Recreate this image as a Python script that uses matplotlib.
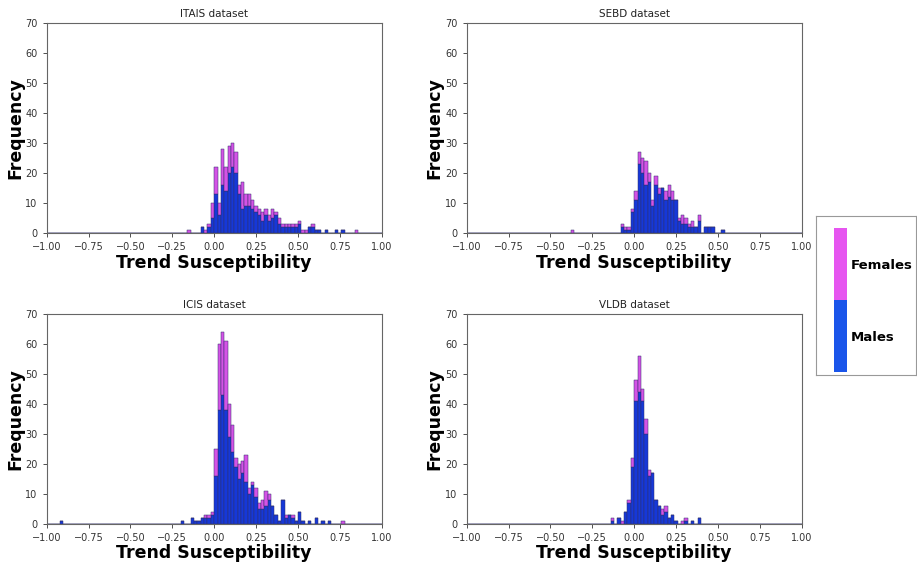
import numpy as np
import matplotlib as mpl
import matplotlib.pyplot as plt
from matplotlib.colors import ListedColormap, BoundaryNorm

# histogram data: bin left edges (bin width 0.02),
# counts of males (bottom) and females (stacked on top)
itais_edges = [-0.16, -0.08, -0.06, -0.04, -0.02, 0.00, 0.02, 0.04, 0.06, 0.08,
               0.10, 0.12, 0.14, 0.16, 0.18, 0.20, 0.22, 0.24, 0.26, 0.28,
               0.30, 0.32, 0.34, 0.36, 0.38, 0.40, 0.42, 0.44, 0.46, 0.48,
               0.50, 0.52, 0.54, 0.56, 0.58, 0.60, 0.62, 0.66, 0.72, 0.76, 0.84]
itais_males = [0, 2, 0, 2, 5, 13, 6, 16, 14, 20,
               22, 20, 13, 8, 9, 9, 8, 7, 6, 4,
               6, 4, 5, 6, 3, 2, 2, 2, 2, 2,
               3, 0, 0, 2, 2, 1, 1, 1, 1, 1, 0]
itais_females = [1, 0, 1, 1, 5, 9, 4, 12, 8, 9,
                 8, 7, 3, 9, 4, 4, 3, 2, 2, 3,
                 2, 2, 3, 1, 2, 1, 1, 1, 1, 1,
                 1, 1, 1, 0, 1, 0, 0, 0, 0, 0, 1]

sebd_edges = [-0.38, -0.08, -0.06, -0.04, -0.02, 0.00, 0.02, 0.04, 0.06, 0.08,
              0.10, 0.12, 0.14, 0.16, 0.18, 0.20, 0.22, 0.24, 0.26, 0.28,
              0.30, 0.32, 0.34, 0.36, 0.38, 0.42, 0.44, 0.46, 0.52]
sebd_males = [0, 2, 1, 1, 7, 11, 23, 20, 16, 17,
              9, 16, 13, 15, 11, 12, 11, 11, 4, 3,
              3, 2, 2, 2, 4, 2, 2, 2, 1]
sebd_females = [1, 1, 1, 1, 1, 3, 4, 5, 8, 3,
                2, 3, 2, 0, 3, 4, 3, 0, 1, 3,
                2, 1, 2, 0, 2, 0, 0, 0, 0]

icis_edges = [-0.92, -0.20, -0.14, -0.12, -0.10, -0.08, -0.06, -0.04, -0.02, 0.00,
              0.02, 0.04, 0.06, 0.08, 0.10, 0.12, 0.14, 0.16, 0.18, 0.20,
              0.22, 0.24, 0.26, 0.28, 0.30, 0.32, 0.34, 0.36, 0.38, 0.40,
              0.42, 0.44, 0.46, 0.48, 0.50, 0.52, 0.56, 0.60, 0.64, 0.68, 0.76]
icis_males = [1, 1, 2, 1, 1, 2, 2, 2, 3, 16,
              38, 43, 38, 29, 24, 19, 15, 17, 14, 10,
              13, 9, 5, 5, 6, 8, 6, 3, 1, 8,
              2, 3, 2, 1, 4, 1, 1, 2, 1, 1, 0]
icis_females = [0, 0, 0, 0, 0, 0, 1, 1, 1, 9,
                22, 21, 23, 11, 9, 3, 5, 4, 9, 2,
                1, 3, 2, 3, 5, 2, 0, 0, 0, 0,
                1, 0, 1, 0, 0, 0, 0, 0, 0, 0, 1]

vldb_edges = [-0.14, -0.10, -0.08, -0.06, -0.04, -0.02, 0.00, 0.02, 0.04, 0.06,
              0.08, 0.10, 0.12, 0.14, 0.16, 0.18, 0.20, 0.22, 0.24, 0.28,
              0.30, 0.34, 0.38]
vldb_males = [1, 2, 0, 4, 7, 19, 41, 44, 41, 30,
              16, 17, 8, 6, 3, 4, 2, 3, 1, 0,
              1, 1, 2]
vldb_females = [1, 0, 1, 0, 1, 3, 7, 12, 4, 5,
                2, 0, 0, 0, 2, 2, 0, 0, 0, 1,
                1, 0, 0]

titles = ['ITAIS dataset', 'SEBD dataset', 'ICIS dataset', 'VLDB dataset']
legend_labels = ['Males', 'Females']

male_color = '#1638d8'
female_color = '#d453e6'
legend_male = '#1a55ea'
legend_female = '#e655f0'

bins = np.linspace(-1, 1, 101)

fig = plt.figure(figsize=(9.17, 5.64), dpi=100)

# axes positions in figure fractions (left, bottom, width, height)
positions = [
    [0.0509, 0.5863, 0.3653, 0.3734],
    [0.5089, 0.5863, 0.3653, 0.3734],
    [0.0509, 0.0709, 0.3653, 0.3723],
    [0.5089, 0.0709, 0.3653, 0.3723],
]
panels = [
    (itais_edges, itais_males, itais_females),
    (sebd_edges, sebd_males, sebd_females),
    (icis_edges, icis_males, icis_females),
    (vldb_edges, vldb_males, vldb_females),
]


def draw_panel(ax, edges, males, females, title):
    """stacked histogram, males at the bottom and females on top"""
    centers = np.array(edges) + 0.01
    ax.hist([centers, centers], bins=bins, weights=[males, females],
            stacked=True, color=[male_color, female_color],
            edgecolor='#30306a', linewidth=0.35)
    ax.set_xlim(-1, 1)
    ax.set_ylim(0, 70)
    ax.set_xticks(np.arange(-1, 1.01, 0.25))
    ax.set_yticks(np.arange(0, 71, 10))
    ax.tick_params(labelsize=7, colors='#333333', length=3, width=0.6)
    for s in ax.spines.values():
        s.set_color('#666666')
        s.set_linewidth(0.8)
    ax.set_title(title, fontsize=7.5, pad=4, color='#222222')
    ax.set_xlabel('Trend Susceptibility', fontsize=12.5, fontweight='bold', labelpad=1)
    ax.set_ylabel('Frequency', fontsize=12.5, fontweight='bold', labelpad=1)


for pos, (edges, males, females), title in zip(positions, panels, titles):
    ax = fig.add_axes(pos)
    draw_panel(ax, edges, males, females, title)

# legend box on the right
lax = fig.add_axes([0.8899, 0.3351, 0.109, 0.282])
lax.set_xticks([])
lax.set_yticks([])
for s in lax.spines.values():
    s.set_color('#999999')
    s.set_linewidth(0.8)

cax = fig.add_axes([834 / 917, 1 - 372 / 564, 12.7 / 917, 144 / 564])
cb = mpl.colorbar.ColorbarBase(cax, cmap=ListedColormap([legend_male, legend_female]),
                               norm=BoundaryNorm([0, 1, 2], 2), orientation='vertical')
cb.outline.set_visible(False)
cb.set_ticks([0.5, 1.5])
cb.set_ticklabels(legend_labels)
cax.minorticks_off()
cax.tick_params(which='both', length=0, pad=3)
for lbl in cax.get_yticklabels():
    lbl.set_fontsize(9.5)
    lbl.set_fontweight('bold')

fig.savefig('out.png', dpi=100)
